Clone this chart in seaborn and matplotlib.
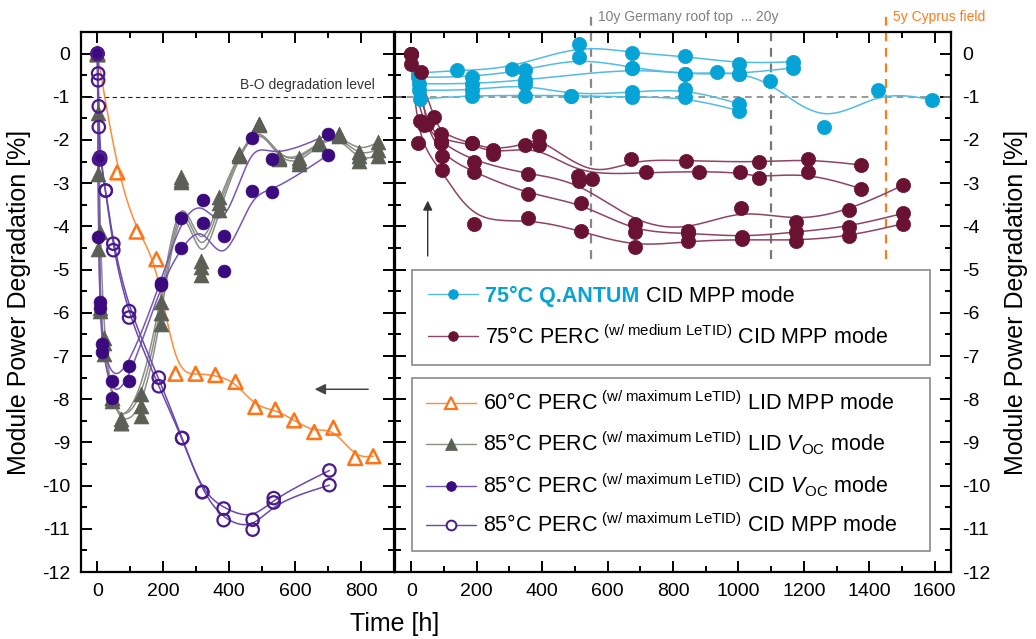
import numpy as np
import pandas as pd
import matplotlib
matplotlib.use("Agg")
import matplotlib.pyplot as plt
from matplotlib.lines import Line2D
from matplotlib.ticker import MultipleLocator
import seaborn as sns

# ---------------- data: left panel (PERC, 60 / 85 degC) ----------------
orange_t = [0, 60, 119, 179, 237, 298, 358, 419, 479, 540, 597, 658, 716, 782, 837]
orange_y = [0, -2.75, -4.12, -4.76, -7.41, -7.41, -7.44, -7.60, -8.18, -8.24, -8.49, -8.76, -8.66, -9.36, -9.32]

gray_t = [0, 3, 8, 20, 45, 70, 131, 192, 252, 313, 370, 430, 490, 550, 611, 671, 733, 793, 852]
gray_m1 = [0, -1.38, -4.14, -6.58, -7.97, -8.55, -7.89, -5.76, -2.86, -4.80, -3.31, -2.32, -1.62, -2.42, -2.42, -2.05, -1.87, -2.27, -2.05]
gray_m2 = [0, -2.78, -5.88, -6.96, -7.97, -8.55, -8.39, -6.26, -2.98, -5.12, -3.62, -2.36, -1.66, -2.45, -2.55, -2.10, -1.90, -2.49, -2.36]
gray_m3 = [0, -4.52, -5.96, -6.70, -8.05, -8.45, -8.15, -6.00, -2.92, -4.95, -3.45, -2.33, -1.63, -2.40, -2.48, -2.06, -1.88, -2.38, -2.22]

pfill_t = [0, 3, 8, 15, 45, 96, 192, 254, 320, 383, 469, 530, 701]
pfill_m1 = [0, -2.44, -5.76, -6.73, -7.58, -7.23, -5.30, -3.80, -3.38, -4.23, -1.95, -2.44, -1.87]
pfill_m2 = [0, -4.25, -5.88, -6.90, -7.98, -7.58, -5.35, -4.49, -3.91, -5.04, -3.19, -3.21, -2.34]

popen_t = [0, 2, 4, 8, 25, 48, 96, 186, 257, 318, 383, 471, 535, 704]
popen_m1 = [0, -0.46, -1.22, -2.40, -3.17, -4.40, -5.96, -7.50, -8.90, -10.15, -10.53, -10.79, -10.29, -9.65]
popen_m2 = [0, -0.62, -1.70, -2.45, -3.17, -4.55, -6.11, -7.70, -8.90, -10.15, -10.80, -11.02, -10.39, -9.99]

# ---------------- data: right panel (75 degC, CID MPP) ----------------
qa_t1 = [20, 140, 307, 512, 675, 838, 1001, 1167]
qa_y1 = [-0.45, -0.39, -0.35, 0.22, 0.01, -0.06, -0.23, -0.19]
qa_t2 = [20, 185, 348, 512, 675, 838, 935, 1001, 1098, 1263, 1428, 1593]
qa_y2 = [-0.55, -0.54, -0.39, -0.09, -0.33, -0.48, -0.43, -0.47, -0.64, -1.71, -0.85, -1.07]
qa_t3 = [22, 185, 348, 675, 838, 1001, 1167]
qa_y3 = [-0.70, -0.70, -0.62, -0.33, -0.48, -0.47, -0.33]
qa_t4 = [24, 185, 348, 489, 675, 838, 1001]
qa_y4 = [-0.85, -0.85, -0.70, -0.97, -0.89, -0.81, -1.16]
qa_t5 = [26, 185, 348, 489, 675, 838, 1001]
qa_y5 = [-1.05, -0.97, -0.97, -0.97, -1.01, -1.01, -1.32]

perc_t1 = [0, 70, 90, 185, 250, 348, 390, 553, 673, 840, 1062, 1212, 1376]
perc_y1 = [0, -1.47, -1.86, -2.08, -2.23, -2.11, -1.90, -2.90, -2.44, -2.48, -2.52, -2.44, -2.58]
perc_t2 = [0, 49, 90, 185, 250, 390, 510, 718, 879, 1004, 1062, 1212, 1376]
perc_y2 = [-0.23, -1.63, -2.02, -2.08, -2.33, -2.11, -2.83, -2.75, -2.73, -2.75, -2.87, -2.75, -3.13]
perc_t3 = [0, 25, 91, 192, 357, 512, 683, 846, 1008, 1176, 1339, 1502]
perc_y3 = [0, -1.55, -2.07, -2.50, -2.79, -2.95, -3.94, -4.11, -3.58, -3.89, -3.63, -3.05]
perc_t4 = [0, 29, 40, 95, 192, 357, 520, 683, 846, 1011, 1176, 1339, 1502]
perc_y4 = [0, -0.43, -1.65, -2.37, -2.75, -3.26, -3.45, -4.14, -4.15, -4.25, -4.13, -4.01, -3.70]
perc_t5 = [0, 19, 95, 192, 357, 520, 683, 846, 1011, 1176, 1339, 1502]
perc_y5 = [0, -2.08, -2.70, -3.95, -3.81, -4.11, -4.48, -4.34, -4.30, -4.33, -4.23, -3.94]

# reference levels
bo_level = -1.0
germany_10y, germany_20y, cyprus_5y = 550, 1100, 1450

# ---------------- colours ----------------
C_ORANGE, C_ORANGE_L = "#FF7417", "#FF8C3C"
C_GRAY, C_GRAY_L = "#5C5F55", "#8C8E88"
C_PURPLE, C_PURPLE_L = "#3A0A7E", "#7658B6"
C_OPEN, C_OPEN_L = "#4A1A8C", "#6A48AC"
C_BLUE, C_BLUE_L = "#06A3D6", "#52BCE3"
C_MAROON, C_MAROON_L = "#6A1232", "#8E4462"

sns.set_theme(style="ticks")
plt.rcParams["font.family"] = ["Liberation Sans", "DejaVu Sans"]
plt.rcParams["mathtext.fontset"] = "custom"
plt.rcParams["mathtext.rm"] = "Liberation Sans"
plt.rcParams["mathtext.it"] = "Liberation Sans:italic"
plt.rcParams["mathtext.bf"] = "Liberation Sans:bold"
plt.rcParams["axes.unicode_minus"] = False
for key in ("text.color", "axes.labelcolor", "xtick.color", "ytick.color",
            "xtick.labelcolor", "ytick.labelcolor"):
    plt.rcParams[key] = "black"


def bspline(t, y, n=24):
    """Uniform cubic B-spline with the measured points as control points."""
    P = np.column_stack([t, y]).astype(float)
    P = np.vstack([P[:1], P[:1], P, P[-1:], P[-1:]])
    u = np.linspace(0, 1, n, endpoint=False)
    b0 = (1 - u) ** 3 / 6
    b1 = (3 * u ** 3 - 6 * u ** 2 + 4) / 6
    b2 = (-3 * u ** 3 + 3 * u ** 2 + 3 * u + 1) / 6
    b3 = u ** 3 / 6
    segs = [np.outer(b0, P[i]) + np.outer(b1, P[i + 1]) + np.outer(b2, P[i + 2]) + np.outer(b3, P[i + 3])
            for i in range(len(P) - 3)]
    segs.append(P[-1:])
    return np.vstack(segs)


def frames(modules):
    pts, crv = [], []
    for k, (t, y) in enumerate(modules):
        pts.append(pd.DataFrame({"t": t, "y": y, "module": k}))
        c = bspline(t, y)
        crv.append(pd.DataFrame({"t": c[:, 0], "y": c[:, 1], "module": k}))
    return pd.concat(pts, ignore_index=True), pd.concat(crv, ignore_index=True)


def draw_series(ax, modules, line_color, marker, face, edge, size, ew, lw=1.1, z=3):
    pts, crv = frames(modules)
    sns.lineplot(data=crv, x="t", y="y", units="module", estimator=None, sort=False,
                 color=line_color, lw=lw, ax=ax, zorder=z, legend=False)
    sns.scatterplot(data=pts, x="t", y="y", marker=marker, s=size, color=face,
                    edgecolor=edge, linewidth=ew, ax=ax, zorder=z + 0.5, legend=False)


fig = plt.figure(figsize=(10.36, 6.39), dpi=100)
W, H = 1036, 639
ax1 = fig.add_axes([81 / W, 67 / H, 313 / W, 540 / H])
ax2 = fig.add_axes([395 / W, 67 / H, 556 / W, 540 / H])

# ---------------- left panel ----------------
ax1.axhline(bo_level, color="#222222", lw=0.8, ls=(0, (4, 3)), zorder=1)
draw_series(ax1, [(orange_t, orange_y)], C_ORANGE_L, "^", "none", C_ORANGE, 100, 1.8)
draw_series(ax1, [(gray_t, gray_m1), (gray_t, gray_m2), (gray_t, gray_m3)],
            C_GRAY_L, "^", C_GRAY, C_GRAY, 115, 0.5)
draw_series(ax1, [(pfill_t, pfill_m1), (pfill_t, pfill_m2)],
            C_PURPLE_L, "o", C_PURPLE, C_PURPLE, 85, 0.5)
draw_series(ax1, [(popen_t, popen_m1), (popen_t, popen_m2)],
            C_OPEN_L, "o", "none", C_OPEN, 80, 1.6)

ax1.text(842, bo_level + 0.12, "B-O degradation level", ha="right", va="bottom",
         fontsize=10, color="#333333")
ax1.annotate("", xy=(651, -7.77), xytext=(830, -7.77),
             arrowprops=dict(arrowstyle="-|>", color="#444444", lw=1.1, mutation_scale=16))

ax1.set_xlim(-50, 900)
ax1.set_ylim(-12, 0.5)
ax1.xaxis.set_major_locator(MultipleLocator(200))
ax1.xaxis.set_minor_locator(MultipleLocator(100))
ax1.yaxis.set_major_locator(MultipleLocator(1))
ax1.yaxis.set_minor_locator(MultipleLocator(0.5))
ax1.tick_params(which="both", direction="in", top=True, right=True, width=1.4,
                labelsize=14, pad=8, colors="black")
ax1.tick_params(which="major", length=8)
ax1.tick_params(which="minor", length=4.5)
ax1.set_xlabel("")
ax1.set_ylabel("Module Power Degradation [%]", fontsize=18, labelpad=8)

# ---------------- right panel ----------------
ax2.axhline(bo_level, color="#888888", lw=1.2, ls=(0, (4, 3)), zorder=1)
draw_series(ax2, [(qa_t1, qa_y1), (qa_t2, qa_y2), (qa_t3, qa_y3), (qa_t4, qa_y4), (qa_t5, qa_y5)],
            C_BLUE_L, "o", C_BLUE, C_BLUE, 105, 0.5)
draw_series(ax2, [(perc_t1, perc_y1), (perc_t2, perc_y2), (perc_t3, perc_y3),
                  (perc_t4, perc_y4), (perc_t5, perc_y5)],
            C_MAROON_L, "o", C_MAROON, C_MAROON, 105, 0.5)

for xv, top, col in [(germany_10y, 1.0, "#888888"), (germany_20y, 0.5, "#777777"),
                     (cyprus_5y, 0.98, "#FF7A1A")]:
    ax2.plot([xv, xv], [-4.75, top], color=col, lw=1.6, ls=(0, (4, 3)),
             clip_on=False, zorder=2)
ax2.text(germany_10y + 22, 0.85, "10y Germany roof top  ... 20y", ha="left", va="center",
         fontsize=10, color="#808080", clip_on=False)
ax2.text(cyprus_5y + 22, 0.85, "5y Cyprus field", ha="left", va="center",
         fontsize=10, color="#FF7A1A", clip_on=False)
ax2.annotate("", xy=(50, -3.34), xytext=(50, -4.75),
             arrowprops=dict(arrowstyle="-|>", color="#333333", lw=1.0, mutation_scale=14))

ax2.set_xlim(-50, 1650)
ax2.set_ylim(-12, 0.5)
ax2.xaxis.set_major_locator(MultipleLocator(200))
ax2.xaxis.set_minor_locator(MultipleLocator(100))
ax2.yaxis.set_major_locator(MultipleLocator(1))
ax2.yaxis.set_minor_locator(MultipleLocator(0.5))
ax2.tick_params(which="both", direction="in", top=True, left=True, right=True,
                labelleft=False, labelright=True, width=1.4, labelsize=14, pad=8, colors="black")
ax2.tick_params(which="major", length=8)
ax2.tick_params(which="minor", length=4.5)
ax2.set_xlabel("")
ax2.yaxis.set_label_position("right")
ax2.set_ylabel("Module Power Degradation [%]", fontsize=18, labelpad=10)

for ax in (ax1, ax2):
    for sp in ax.spines.values():
        sp.set_visible(True)
        sp.set_linewidth(1.6)
        sp.set_color("black")

fig.text(395 / W, 1 - 624 / H, "Time [h]", ha="center", va="center", fontsize=18)

# ---------------- legends ----------------
def handle(line_c, marker, face, edge, ms, mew):
    return Line2D([], [], color=line_c, lw=1.0, marker=marker, ms=ms,
                  markerfacecolor=face, markeredgecolor=edge, markeredgewidth=mew)

sup_med = r"$^{\ \rm (w/\ medium\ LeTID)}$"
sup_max = r"$^{\ \rm (w/\ maximum\ LeTID)}$"
voc = r"$V_{\rm OC}$"

leg_kw = dict(loc="upper left", mode="expand", fontsize=15.5, frameon=True, fancybox=False,
              borderaxespad=0, handlelength=2.3, handletextpad=0.35, framealpha=1)

leg1 = ax2.legend(
    handles=[handle(C_BLUE_L, "o", C_BLUE, C_BLUE, 7, 0.5),
             handle(C_MAROON_L, "o", C_MAROON, C_MAROON, 7, 0.5)],
    labels=["75°C Q.ANTUM", "75°C PERC" + sup_med + " CID MPP mode"],
    bbox_to_anchor=(0.031, 0.40, 0.931, 0.16), labelspacing=0.85, borderpad=0.75, **leg_kw)
leg1.get_frame().set_edgecolor("#8a8a8a")
leg1.get_frame().set_linewidth(1.2)
q_text = leg1.get_texts()[0]
q_text.set_color(C_BLUE)
q_text.set_fontweight("bold")
ax2.add_artist(leg1)
ax2.annotate(" CID MPP mode", xy=(1, 0), xycoords=q_text, ha="left", va="bottom",
             fontsize=15.5, color="black", zorder=10, annotation_clip=False)

leg2 = ax2.legend(
    handles=[handle(C_ORANGE_L, "^", "white", C_ORANGE, 8, 1.6),
             handle(C_GRAY_L, "^", C_GRAY, C_GRAY, 8, 0.5),
             handle(C_PURPLE_L, "o", C_PURPLE, C_PURPLE, 7, 0.5),
             handle(C_OPEN_L, "o", "white", C_OPEN, 7, 1.4)],
    labels=["60°C PERC" + sup_max + " LID MPP mode",
            "85°C PERC" + sup_max + " LID " + voc + " mode",
            "85°C PERC" + sup_max + " CID " + voc + " mode",
            "85°C PERC" + sup_max + " CID MPP mode"],
    bbox_to_anchor=(0.031, 0.04, 0.931, 0.32), labelspacing=0.68, borderpad=0.65, **leg_kw)
leg2.get_frame().set_edgecolor("#8a8a8a")
leg2.get_frame().set_linewidth(1.2)

fig.savefig("out.png", dpi=100)
